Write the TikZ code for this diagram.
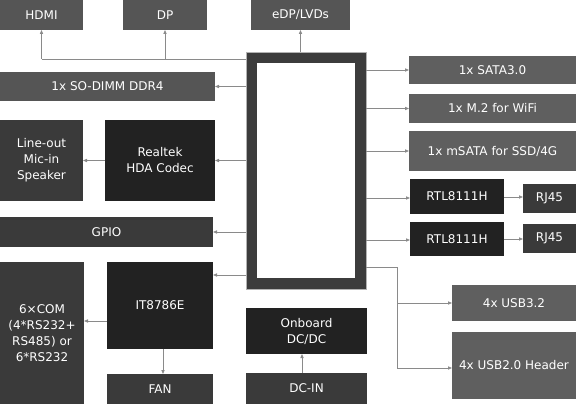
\documentclass[tikz,border=0pt]{standalone}
\usepackage{fontspec}
\setmainfont{DejaVu Sans}
\usetikzlibrary{arrows.meta}
\definecolor{cmid}{HTML}{555555}
\definecolor{cright}{HTML}{5F5F5F}
\definecolor{cdark}{HTML}{3A3A3A}
\definecolor{cblack}{HTML}{222222}
\definecolor{cframe}{HTML}{3C3C3C}
\definecolor{cline}{HTML}{8A8A8A}
\tikzset{
  box/.style={anchor=north west, inner sep=0pt, outer sep=0pt, text=white, align=center,
    font=\fontsize{12}{16}\selectfont},
  wire/.style={draw=cline, line width=0.8pt},
  arr/.style={wire, -{Triangle[length=4pt,width=3.2pt]}, color=cline},
}
\newcommand{\bx}[7]{\node[box, fill=#2, minimum width=#5pt, minimum height=#6pt] (#1) at (#3,#4) {#7};}
\begin{document}
\begin{tikzpicture}[x=1pt,y=-1pt]
\useasboundingbox (0,0) rectangle (576,404);
% top row
\bx{hdmi}{cmid}{0}{0}{83}{30}{HDMI}
\bx{dp}{cmid}{123}{0}{84}{30}{DP}
\bx{edp}{cmid}{251}{0}{99}{30}{eDP/LVDs}
% central block
\node[draw=cframe, line width=11pt, fill=white, minimum width=109pt, minimum height=226pt, inner sep=0pt] (cpu) at (306,170.5) {};
\draw[draw=gray!60, line width=0.6pt] (246,52) rectangle (366,289);
% left
\bx{dimm}{cmid}{0}{72}{215}{29}{1x SO-DIMM DDR4}
\bx{audio}{cdark}{0}{120}{83}{81}{Line-out\\Mic-in\\Speaker}
\bx{codec}{cblack}{105}{120}{110}{81}{Realtek\\HDA Codec}
\bx{gpio}{cdark}{0}{217}{213}{30}{GPIO}
\bx{com}{cdark}{0}{262}{84}{142}{6×COM\\(4*RS232+\\RS485) or\\6*RS232}
\bx{sio}{cblack}{107}{262}{106}{87}{IT8786E}
\bx{fan}{cdark}{107}{374}{106}{30}{FAN}
% bottom center
\bx{dcdc}{cblack}{246}{308}{121}{46}{Onboard\\DC/DC}
\bx{dcin}{cdark}{246}{373}{121}{31}{DC-IN}
% right
\bx{sata}{cright}{409}{56}{167}{28}{1x SATA3.0}
\bx{m2}{cright}{409}{94}{167}{29}{1x M.2 for WiFi}
\bx{msata}{cright}{409}{131}{167}{40}{1x mSATA for SSD/4G}
\bx{lan1}{cblack}{410}{179}{94}{35}{RTL8111H}
\bx{rj1}{cdark}{523}{184}{53}{29}{RJ45}
\bx{lan2}{cblack}{410}{222}{94}{34}{RTL8111H}
\bx{rj2}{cdark}{523}{224}{53}{29}{RJ45}
\bx{usb3}{cright}{452}{285}{124}{36}{4x USB3.2}
\bx{usb2}{cright}{452}{332}{124}{67}{4x USB2.0 Header}
% connectors top
\coordinate (vj) at (cpu.west |- 0,59);
\draw[wire] (vj) -- (hdmi.south |- vj);
\draw[arr] (hdmi.south |- vj) -- (hdmi.south);
\draw[arr] (dp.south |- vj) -- (dp.south);
\draw[arr] (edp.south |- cpu.north) -- (edp.south);
% left connectors
\draw[arr] (cpu.west |- dimm) -- (dimm.east);
\draw[arr] (cpu.west |- codec) -- (codec.east);
\draw[arr] (codec.west) -- (audio.east);
\draw[arr] (cpu.west |- gpio) -- (gpio.east);
\draw[arr] (cpu.west |- 0,275) -- (sio.east |- 0,275);
\draw[arr] (sio.west |- 0,321) -- (com.east |- 0,321);
\draw[arr] (sio.south -| 163,0) -- (fan.north -| 163,0);
\draw[arr] (dcin.north -| 302,0) -- (dcdc.south -| 302,0);
% right connectors
\draw[arr] (cpu.east |- sata) -- (sata.west);
\draw[arr] (cpu.east |- m2) -- (m2.west);
\draw[arr] (cpu.east |- msata) -- (msata.west);
\draw[arr] (cpu.east |- 0,198) -- (lan1.west |- 0,198);
\draw[arr] (lan1.east |- 0,197) -- (rj1.west |- 0,197);
\draw[arr] (cpu.east |- 0,240) -- (lan2.west |- 0,240);
\draw[arr] (lan2.east |- 0,239) -- (rj2.west |- 0,239);
\coordinate (uj) at (397,267);
\coordinate (ub) at (397,368);
\draw[wire] (cpu.east |- uj) -- (uj) -- (ub);
\draw[arr] (uj |- usb3) -- (usb3.west);
\draw[arr] (ub) -- (usb2.west |- ub);
\end{tikzpicture}
\end{document}
